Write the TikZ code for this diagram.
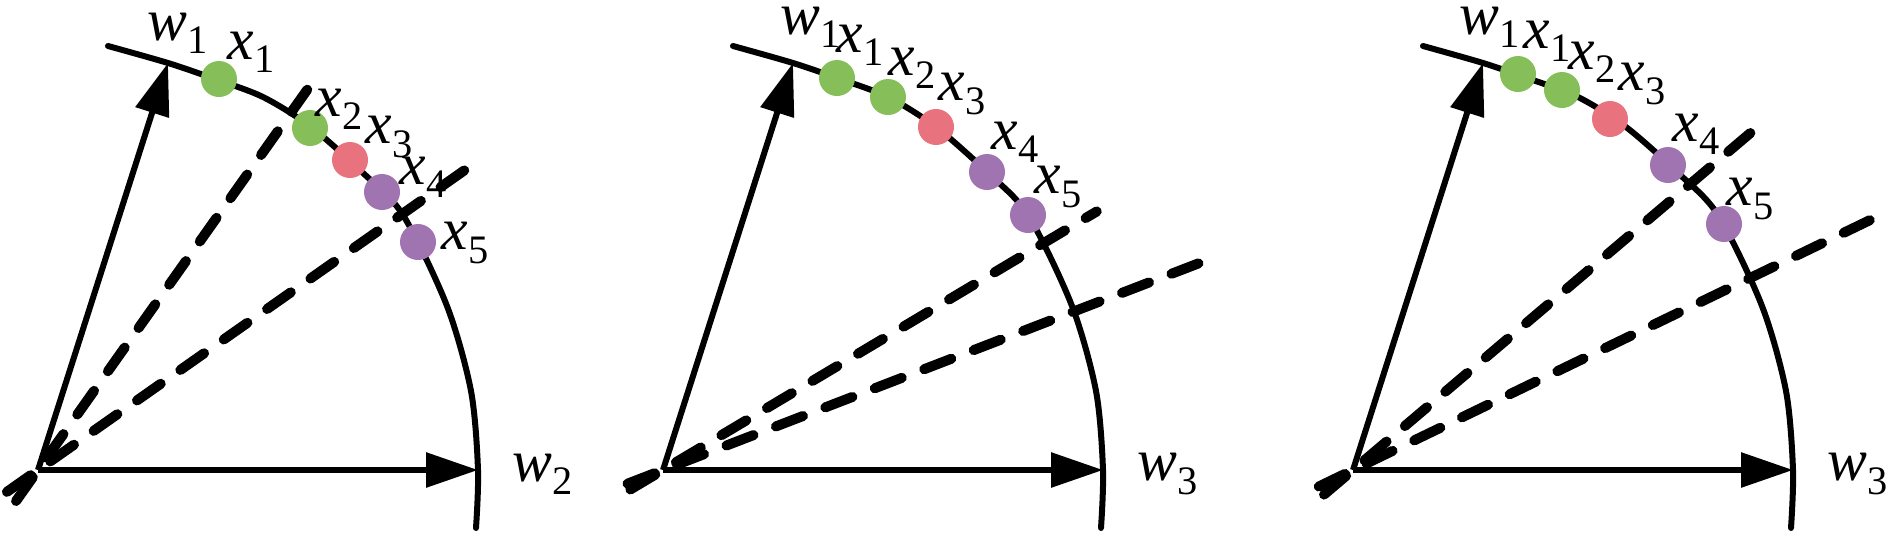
\documentclass[tikz,border=0pt]{standalone}
\usepackage{fontspec}
\setmainfont{Liberation Serif}
\usetikzlibrary{positioning,arrows.meta,calc}
\definecolor{dotgreen}{RGB}{134,190,90}
\definecolor{dotred}{RGB}{232,114,126}
\definecolor{dotpurple}{RGB}{160,116,176}
\tikzset{
  fig/.style={font=\fontsize{17}{20}\selectfont},
  axis/.style={-{Triangle[length=5.2mm,width=3.4mm]},line width=0.6mm},
  rim/.style={line width=0.6mm,line cap=round},
  dashln/.style={line width=1mm,line cap=round,dash pattern=on 2.9mm off 2.4mm},
  dot/.style={circle,draw=none,minimum size=3.6mm,inner sep=0pt},
  lab/.style={inner sep=0pt},
}
\newcommand{\vsub}[2]{\textit{#1}\raisebox{-0.22em}{\fontsize{11.5}{12}\selectfont #2}}

\begin{document}
\begin{tikzpicture}[fig]
\useasboundingbox (0,0) rectangle (18.9,5.33);

% ------------------------------------------------ common : axes and rim
\foreach \p/\ox/\wl/\wx/\wy in {a/0.38/2/1.40/4.37, b/6.63/3/1.48/4.43, c/13.53/3/1.37/4.43}{
  \begin{scope}[shift={(\ox,0.63)}]
    \coordinate (\p o) at (0,0);
    \coordinate (\p h) at (4.40,0);
    \coordinate (\p v) at (1.30,4.07);
    \draw[rim] plot[smooth] coordinates {(0.70,4.24) (1.30,4.07) (1.74,3.92)
      (2.25,3.73) (2.73,3.43) (3.24,2.98) (3.65,2.55) (4.09,1.64) (4.33,0.79)
      (4.40,0.0) (4.38,-0.58)};
    \draw[axis] (\p o) -- (\p h);
    \draw[axis] (\p o) -- (\p v);
    \node[lab] (\p w1) at (\wx,\wy) {\vsub{w}{1}};
    \node[lab] (\p w\wl) at (5.05,-0.04) {\vsub{w}{\wl}};
  \end{scope}
}

% ------------------------------------------------ panel 1
\begin{scope}[shift={(0.38,0.63)}]
  \coordinate (a1s) at (234.7:0.38); \coordinate (a1e) at (54.7:4.66);
  \coordinate (a2s) at (215.1:0.38); \coordinate (a2e) at (35.1:5.34);
  \draw[dashln] (a1s) -- (a1e);
  \draw[dashln] (a2s) -- (a2e);
  \foreach \c/\dx/\dy/\lx/\ly [count=\n from 1] in {%
    dotgreen/1.81/3.91/2.13/4.18, dotgreen/2.72/3.42/3.01/3.61,
    dotred/3.12/3.10/3.51/3.33, dotpurple/3.44/2.78/3.85/2.93,
    dotpurple/3.80/2.28/4.27/2.27}
    {\node[dot,fill=\c] (ax\n) at (\dx,\dy) {};
     \node[lab] (al\n) at (\lx,\ly) {\vsub{x}{\n}};}
\end{scope}

% ------------------------------------------------ panel 2
\begin{scope}[shift={(6.63,0.63)}]
  \coordinate (b1s) at (210.8:0.38); \coordinate (b1e) at (30.8:5.05);
  \coordinate (b2s) at (201.1:0.38); \coordinate (b2e) at (21.1:5.89);
  \draw[dashln] (b1s) -- (b1e);
  \draw[dashln] (b2s) -- (b2e);
  \foreach \c/\dx/\dy/\lx/\ly [count=\n from 1] in {%
    dotgreen/1.74/3.92/1.97/4.25, dotgreen/2.25/3.73/2.49/4.02,
    dotred/2.73/3.43/2.99/3.76, dotpurple/3.24/2.98/3.52/3.28,
    dotpurple/3.65/2.55/3.95/2.83}
    {\node[dot,fill=\c] (bx\n) at (\dx,\dy) {};
     \node[lab] (bl\n) at (\lx,\ly) {\vsub{x}{\n}};}
\end{scope}

% ------------------------------------------------ panel 3
\begin{scope}[shift={(13.53,0.63)}]
  \coordinate (c1s) at (220.3:0.38); \coordinate (c1e) at (40.3:5.44);
  \coordinate (c2s) at (205.8:0.38); \coordinate (c2e) at (25.8:5.91);
  \draw[dashln] (c1s) -- (c1e);
  \draw[dashln] (c2s) -- (c2e);
  \foreach \c/\dx/\dy/\lx/\ly [count=\n from 1] in {%
    dotgreen/1.65/3.96/1.94/4.29, dotgreen/2.09/3.80/2.39/4.08,
    dotred/2.57/3.51/2.89/3.86, dotpurple/3.15/3.05/3.43/3.36,
    dotpurple/3.71/2.46/3.97/2.71}
    {\node[dot,fill=\c] (cx\n) at (\dx,\dy) {};
     \node[lab] (cl\n) at (\lx,\ly) {\vsub{x}{\n}};}
\end{scope}

\end{tikzpicture}
\end{document}
